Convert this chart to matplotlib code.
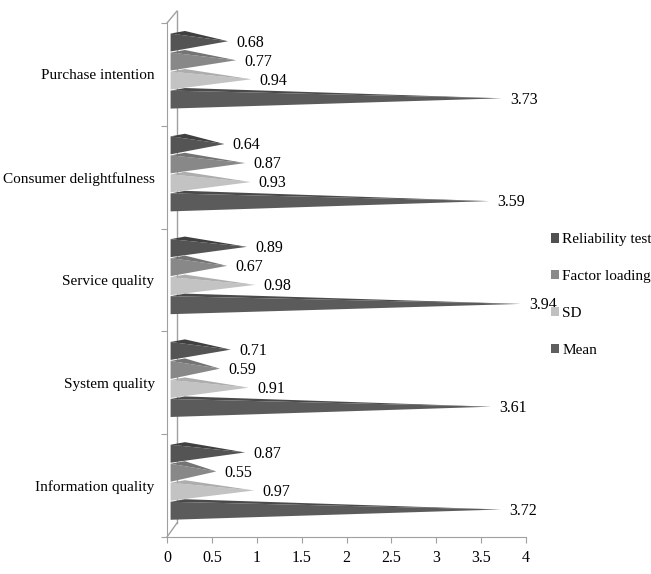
import matplotlib
matplotlib.use("Agg")
import matplotlib.pyplot as plt
from matplotlib.patches import Polygon, Patch

plt.rcParams['font.family'] = ['Liberation Serif', 'DejaVu Serif']

# categories bottom -> top
categories = ["Information quality", "System quality", "Service quality",
              "Consumer delightfulness", "Purchase intention"]
series = ["Mean", "SD", "Factor loading", "Reliability test"]
mean = [3.72, 3.61, 3.94, 3.59, 3.73]
sd = [0.97, 0.91, 0.98, 0.93, 0.94]
factor_loading = [0.55, 0.59, 0.67, 0.87, 0.77]
reliability = [0.87, 0.71, 0.89, 0.64, 0.68]
values = [mean, sd, factor_loading, reliability]
xticks = [0, 0.5, 1, 1.5, 2, 2.5, 3, 3.5, 4]
xticklabels = ["0", "0.5", "1", "1.5", "2", "2.5", "3", "3.5", "4"]

front_colors = ["#5b5b5b", "#c3c3c3", "#888888", "#545454"]
top_colors = ["#4a4a4a", "#adadad", "#747474", "#404040"]
legend_colors = ["#5f5f5f", "#c0c0c0", "#8a8a8a", "#505050"]

fig = plt.figure(figsize=(6.51, 5.74), dpi=100)
ax = fig.add_axes([167 / 651, 37 / 574, 359 / 651, 514 / 574])
ax.set_xlim(0, 4)
ax.set_ylim(-0.5, 4.5)

x0 = 0.04
step = 0.185
for i in range(len(categories)):
    for j, vals in enumerate(values):
        v = vals[i]
        yc = i + 0.045 + (j - 1.5) * step
        z = 3 + 0.1 * (3 - j)
        front = Polygon([(x0, yc + 0.075), (x0, yc - 0.1), (v, yc)], closed=True,
                        facecolor=front_colors[j], edgecolor='none', zorder=z)
        top = Polygon([(x0, yc + 0.075), (x0 + 0.16, yc + 0.1), (v, yc)], closed=True,
                      facecolor=top_colors[j], edgecolor='none', zorder=z)
        ax.add_patch(front)
        ax.add_patch(top)
        ax.annotate(f"{v:.2f}", (v, yc), xytext=(6, -1), textcoords='offset points',
                    ha='left', va='center', fontsize=11.5, color='black', zorder=2)

# 3D back wall
dx, dy = 0.11, 0.115
ax.plot([dx, dx], [-0.5 + dy + 0.02, 4.5 + dy], color='#a0a0a0', lw=1, zorder=1, clip_on=False)
ax.plot([0, dx], [4.5, 4.5 + dy], color='#a0a0a0', lw=1, zorder=1, clip_on=False)
ax.plot([0, dx], [-0.5, -0.5 + dy + 0.02], color='#a0a0a0', lw=1, zorder=1, clip_on=False)

for s in ['top', 'right']:
    ax.spines[s].set_visible(False)
ax.spines['left'].set_color('#a0a0a0')
ax.spines['bottom'].set_color('#a0a0a0')

ax.set_xticks(xticks)
ax.set_xticklabels(xticklabels, fontsize=11.5)
ax.tick_params(axis='x', direction='out', length=4, color='#a0a0a0', pad=5)

ax.set_yticks([-0.5, 0.5, 1.5, 2.5, 3.5, 4.5])
ax.set_yticklabels([])
ax.tick_params(axis='y', which='major', direction='out', length=4, color='#a0a0a0')
ax.set_yticks(range(len(categories)), minor=True)
ax.set_yticklabels(categories, minor=True, fontsize=11)
ax.tick_params(axis='y', which='minor', length=0, pad=9)

handles = [Patch(facecolor=legend_colors[j], edgecolor='none') for j in range(3, -1, -1)]
labels = [series[j] for j in range(3, -1, -1)]
fig.legend(handles, labels, loc='center left', bbox_to_anchor=(551 / 651, 1 - 295 / 574),
           frameon=False, fontsize=11, handlelength=0.55, handleheight=0.55,
           handletextpad=0.2, labelspacing=1.55, borderpad=0, borderaxespad=0)

fig.savefig("out.png", dpi=100)
